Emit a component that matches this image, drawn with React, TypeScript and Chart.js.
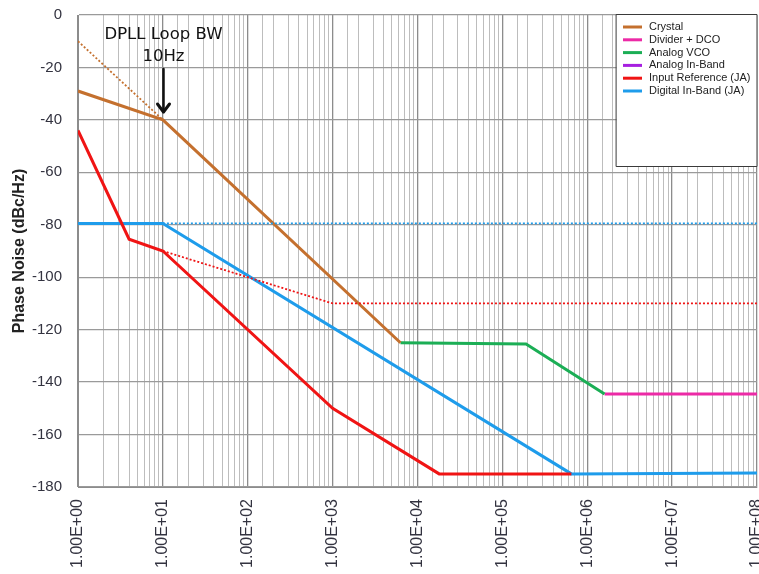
import React, { useEffect, useRef } from "react";
import { Chart, registerables } from "chart.js";

Chart.register(...registerables);

type P = { x: number; y: number };

const seriesNames = [
  "Crystal",
  "Divider + DCO",
  "Analog VCO",
  "Analog In-Band",
  "Input Reference (JA)",
  "Digital In-Band (JA)",
];
const seriesColors = ["#C4702E", "#EC2AA6", "#1BAE55", "#A61FE0", "#F01414", "#1E9CEB"];

const crystal: P[] = [
  { x: 1, y: -29 },
  { x: 10, y: -40 },
  { x: 6300, y: -125 },
];
const crystalExtrap: P[] = [
  { x: 1, y: -10 },
  { x: 10, y: -40 },
];
const dividerDco: P[] = [
  { x: 1.6e6, y: -144.5 },
  { x: 1e8, y: -144.5 },
];
const analogVco: P[] = [
  { x: 6300, y: -125 },
  { x: 1.9e5, y: -125.5 },
  { x: 1.6e6, y: -144.5 },
];
const analogInBand: P[] = [];
const inputRef: P[] = [
  { x: 1, y: -44 },
  { x: 4, y: -85.5 },
  { x: 10, y: -90 },
  { x: 1000, y: -150 },
  { x: 1.8e4, y: -175 },
  { x: 6.5e5, y: -175 },
];
const inputRefUnfiltered: P[] = [
  { x: 10, y: -90 },
  { x: 1000, y: -110 },
  { x: 1e8, y: -110 },
];
const digitalInBand: P[] = [
  { x: 1, y: -79.5 },
  { x: 10, y: -79.5 },
  { x: 6.5e5, y: -175 },
  { x: 1e8, y: -174.7 },
];
const digitalUnfiltered: P[] = [
  { x: 10, y: -79.5 },
  { x: 1e8, y: -79.5 },
];

const xMin = 1;
const xMax = 1e8;
const yMin = -180;
const yMax = 0;
const yStep = 20;
const annotationLines = ["DPLL Loop BW", "10Hz"];
const annotationX = 10;
const yTitle = "Phase Noise (dBc/Hz)";

const isDecade = (v: number) => {
  const l = Math.log10(v);
  return Math.abs(l - Math.round(l)) < 1e-9;
};

const overlayPlugin = {
  id: "overlay",
  afterDraw(chart: any) {
    const ctx = chart.ctx as CanvasRenderingContext2D;
    const xs = chart.scales.x;
    const area = chart.chartArea;
    ctx.save();
    // annotation
    const ax = Math.round(xs.getPixelForValue(annotationX)) + 0.5;
    ctx.fillStyle = "#111";
    ctx.font = "16.5px 'DejaVu Sans', sans-serif";
    ctx.textAlign = "center";
    ctx.textBaseline = "middle";
    ctx.fillText(annotationLines[0], ax, area.top + 20);
    ctx.fillText(annotationLines[1], ax, area.top + 42);
    ctx.strokeStyle = "#111";
    ctx.lineWidth = 2.5;
    ctx.lineCap = "round";
    ctx.lineJoin = "round";
    ctx.beginPath();
    ctx.moveTo(ax, area.top + 54);
    ctx.lineTo(ax, area.top + 97);
    ctx.stroke();
    ctx.lineWidth = 3;
    ctx.beginPath();
    ctx.moveTo(ax - 6, area.top + 89);
    ctx.lineTo(ax, area.top + 97);
    ctx.lineTo(ax + 6, area.top + 89);
    ctx.stroke();

    // legend box
    const lx = 616.5;
    const ly = area.top - 0.5;
    const lw = area.right - lx;
    const lh = 152;
    ctx.fillStyle = "#ffffff";
    ctx.fillRect(lx, ly, lw, lh);
    ctx.strokeStyle = "#3a3a3a";
    ctx.lineWidth = 1;
    ctx.strokeRect(lx, ly, lw, lh);
    ctx.font = "11px 'Liberation Sans', Arial, sans-serif";
    ctx.textAlign = "left";
    ctx.textBaseline = "middle";
    ctx.lineCap = "butt";
    seriesNames.forEach((name, i) => {
      const y = area.top + 12 + i * 12.8;
      ctx.strokeStyle = seriesColors[i];
      ctx.lineWidth = 3;
      ctx.beginPath();
      ctx.moveTo(623, y);
      ctx.lineTo(642, y);
      ctx.stroke();
      ctx.fillStyle = "#222";
      ctx.fillText(name, 649, y);
    });
    ctx.restore();
  },
};

export default function App() {
  const ref = useRef<HTMLCanvasElement | null>(null);
  useEffect(() => {
    if (!ref.current) return;
    const solid = (data: P[], color: string, label: string) => ({
      label,
      data,
      borderColor: color,
      backgroundColor: color,
      borderWidth: 3,
      pointRadius: 0,
      fill: false,
      tension: 0,
    });
    const dotted = (data: P[], color: string, label: string) => ({
      label,
      data,
      borderColor: color,
      backgroundColor: color,
      borderWidth: 1.8,
      borderDash: [2, 2],
      pointRadius: 0,
      fill: false,
      tension: 0,
    });
    const chart = new Chart(ref.current, {
      type: "line",
      data: {
        datasets: [
          dotted(crystalExtrap, seriesColors[0], "Crystal (extrap)"),
          dotted(inputRefUnfiltered, seriesColors[4], "Input Reference (unfiltered)"),
          dotted(digitalUnfiltered, seriesColors[5], "Digital (unfiltered)"),
          solid(analogInBand, seriesColors[3], seriesNames[3]),
          solid(inputRef, seriesColors[4], seriesNames[4]),
          solid(digitalInBand, seriesColors[5], seriesNames[5]),
          solid(crystal, seriesColors[0], seriesNames[0]),
          solid(analogVco, seriesColors[2], seriesNames[2]),
          solid(dividerDco, seriesColors[1], seriesNames[1]),
        ] as any,
      },
      options: {
        responsive: false,
        animation: false,
        devicePixelRatio: 1,
        parsing: true,
        layout: { padding: { top: 15, right: 2, left: 0, bottom: 0 } },
        plugins: {
          legend: { display: false },
          tooltip: { enabled: false },
        },
        scales: {
          x: {
            type: "logarithmic",
            min: xMin,
            max: xMax,
            position: "bottom",
            afterFit: (s: any) => {
              s.height = 87;
              s.paddingLeft = 0;
              s.paddingRight = 0;
            },
            border: { display: true, color: "#8c8c8c", width: 1 },
            grid: {
              drawTicks: false,
              color: (c: any) => (c.tick && isDecade(c.tick.value) ? "#8c8c8c" : "#bdbdbd"),
              lineWidth: (c: any) => (c.tick && isDecade(c.tick.value) ? 1.3 : 1),
            },
            ticks: {
              autoSkip: false,
              minRotation: 90,
              maxRotation: 90,
              padding: 12,
              color: "#333340",
              font: { family: "'Liberation Sans', Arial, sans-serif", size: 16 },
              callback: (v: any) => {
                const n = Number(v);
                if (!isDecade(n)) return "";
                return "1.00E+" + String(Math.round(Math.log10(n))).padStart(2, "0");
              },
            },
          },
          y: {
            type: "linear",
            min: yMin,
            max: yMax,
            afterFit: (s: any) => {
              s.width = 78;
              s.paddingTop = 0;
              s.paddingBottom = 0;
            },
            border: { display: true, color: "#8c8c8c", width: 1 },
            grid: { drawTicks: false, color: "#9a9a9a", lineWidth: 1.3 },
            ticks: {
              stepSize: yStep,
              padding: 16,
              color: "#333340",
              font: { family: "'Liberation Sans', Arial, sans-serif", size: 15 },
            },
            title: {
              display: true,
              text: yTitle,
              color: "#222",
              padding: { top: 10, bottom: 0 },
              font: { family: "'Liberation Sans', Arial, sans-serif", size: 16, weight: "bold" },
            },
          },
        },
      } as any,
      plugins: [overlayPlugin],
    });
    return () => chart.destroy();
  }, []);
  return (
    <div style={{ position: "absolute", left: 0, top: 0, width: 759, height: 574, background: "#fff" }}>
      <canvas ref={ref} width={759} height={574} style={{ display: "block" }} />
    </div>
  );
}
